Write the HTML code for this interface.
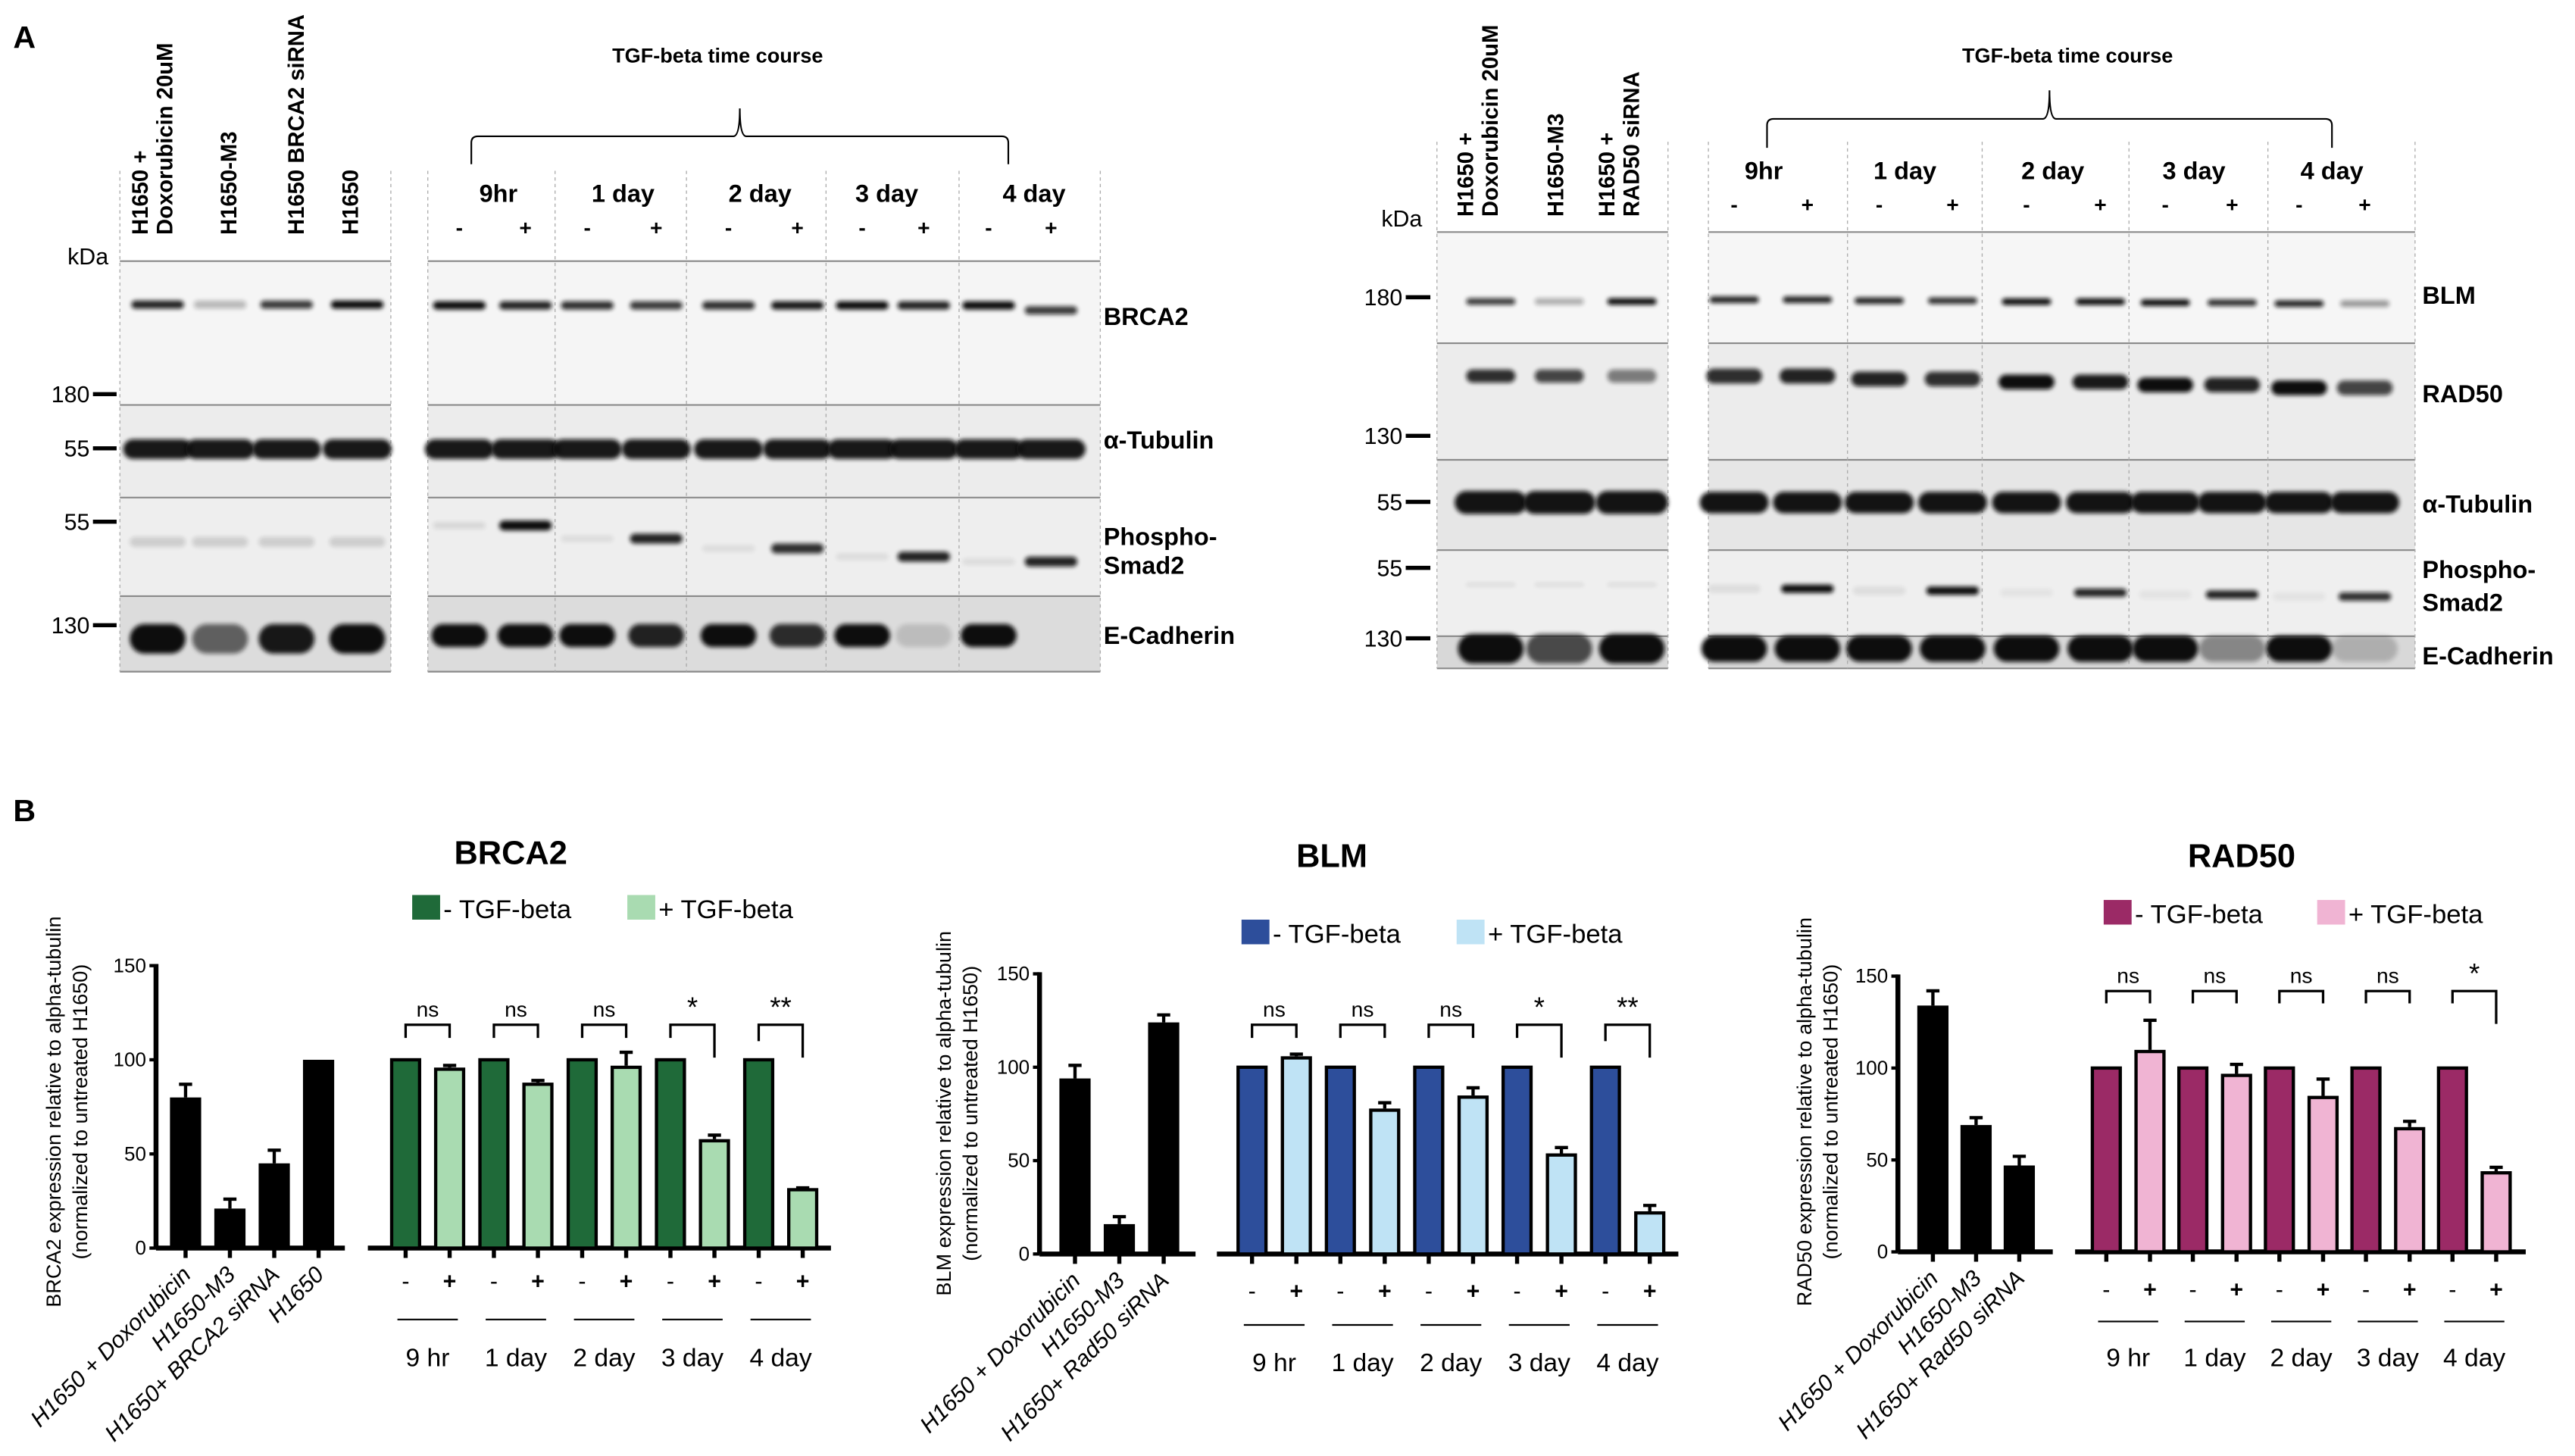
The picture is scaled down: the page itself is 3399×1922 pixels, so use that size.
<!DOCTYPE html>
<html><head><meta charset="utf-8">
<style>
html,body{margin:0;padding:0;background:#fff;}
svg{display:block;}
text{font-family:"Liberation Sans Narrow","Liberation Sans",sans-serif;fill:#000;}
.b{font-weight:bold;}
</style></head>
<body>
<svg id="fig" xmlns="http://www.w3.org/2000/svg" width="3399" height="1922" viewBox="0 0 1568 886.6" preserveAspectRatio="none">
<defs><filter id="blur" x="-20%" y="-100%" width="140%" height="300%"><feGaussianBlur stdDeviation="1.3"/></filter></defs>
<text x="8" y="29" font-size="19" class="b">A</text>
<text x="8" y="500" font-size="19" class="b">B</text>
<g id="blots"></g>
<g id="charts"></g>
</svg>
<script>
// ---------- Chart data ----------
const timeLabels = ['9 hr','1 day','2 day','3 day','4 day'];
const brcaLeftCats = ['H1650 + Doxorubicin','H1650-M3','H1650+ BRCA2 siRNA','H1650'];
const brcaLeftVals = [80, 21, 45, 100];
const brcaLeftErr = [7, 5, 7, 0];
const brcaMinus = [100, 100, 100, 100, 100];
const brcaPlus = [95, 87, 96, 57, 31];
const brcaPlusErr = [2, 2, 8, 3, 1];
const brcaSig = ['ns','ns','ns','*','**'];

const blmLeftCats = ['H1650 + Doxorubicin','H1650-M3','H1650+ Rad50 siRNA'];
const blmLeftVals = [94, 16, 124];
const blmLeftErr = [7, 4, 4];
const blmMinus = [100, 100, 100, 100, 100];
const blmPlus = [105, 77, 84, 53, 22];
const blmPlusErr = [2, 4, 5, 4, 4];
const blmSig = ['ns','ns','ns','*','**'];

const radLeftCats = ['H1650 + Doxorubicin','H1650-M3','H1650+ Rad50 siRNA'];
const radLeftVals = [134, 69, 47];
const radLeftErr = [8, 4, 5];
const radMinus = [100, 100, 100, 100, 100];
const radPlus = [109, 96, 84, 67, 43];
const radPlusErr = [17, 6, 10, 4, 3];
const radSig = ['ns','ns','ns','ns','*'];

const yTicks = [0, 50, 100, 150];

const NS = 'http://www.w3.org/2000/svg';
function mk(parent, tag, attrs, txt){
  const e = document.createElementNS(NS, tag);
  for (const k in attrs) e.setAttribute(k, attrs[k]);
  if (txt !== undefined) e.textContent = txt;
  parent.appendChild(e);
  return e;
}

function chart(c){
  const g = mk(document.getElementById('charts'), 'g', {});
  
  
  const y = v => c.y0 - v * (c.y0 - c.y150) / 150;
  const t = mk(g, 'text', {x:c.titleX, y:c.titleY, 'font-size':20, 'text-anchor':'middle', class:'b'}, c.title);
  
  
  const l1 = mk(g, 'rect', {x:c.lg1, y:c.lgY-8, width:17, height:15, fill:c.dark});
  
  
  const lt1 = mk(g, 'text', {x:c.lg1+19, y:c.lgY+6, 'font-size':16}, '- TGF-beta');
  
  
  const l2 = mk(g, 'rect', {x:c.lg2, y:c.lgY-8, width:17, height:15, fill:c.light});
  
  
  const lt2 = mk(g, 'text', {x:c.lg2+19, y:c.lgY+6, 'font-size':16}, '+ TGF-beta');
  
  
  const yt = mk(g, 'text', {transform:`translate(${c.ytX},${c.ytY}) rotate(-90)`, 'font-size':12.5, 'text-anchor':'middle', 'font-family':'Liberation Sans, sans-serif'});
  
  
  mk(yt, 'tspan', {x:0, y:0}, c.ytitle);
  mk(yt, 'tspan', {x:0, y:16}, '(normalized to untreated H1650)');
  const ya = mk(g, 'line', {x1:c.ax, y1:y(150)-1, x2:c.ax, y2:c.y0, stroke:'#000', 'stroke-width':3});
  
  
  yTicks.forEach(v => {
    mk(g, 'line', {x1:c.ax-4, y1:y(v), x2:c.ax, y2:y(v), stroke:'#000', 'stroke-width':2});
    const tl = mk(g, 'text', {x:c.ax-6, y:y(v)+4, 'font-size':12, 'text-anchor':'end'}, String(v));
    
    
  });
  const xa = mk(g, 'line', {x1:c.ax, y1:c.y0, x2:c.lEnd, y2:c.y0, stroke:'#000', 'stroke-width':3});
  
  
  const xb = mk(g, 'line', {x1:c.rStart, y1:c.y0, x2:c.rEnd, y2:c.y0, stroke:'#000', 'stroke-width':3});
  
  
  const bw = 19;
  c.lVals.forEach((v, i) => {
    const cx = c.lx0 + i * c.lstep;
    const r = mk(g, 'rect', {x:cx-bw/2, y:y(v), width:bw, height:c.y0-y(v), fill:'#000'});
    
    
    if (c.lErr[i] > 0) {
      mk(g, 'line', {x1:cx, y1:y(v), x2:cx, y2:y(v+c.lErr[i]), stroke:'#000', 'stroke-width':2});
      mk(g, 'line', {x1:cx-4, y1:y(v+c.lErr[i]), x2:cx+4, y2:y(v+c.lErr[i]), stroke:'#000', 'stroke-width':2});
    }
    mk(g, 'line', {x1:cx, y1:c.y0, x2:cx, y2:c.y0+6, stroke:'#000', 'stroke-width':2.5});
    const cl = mk(g, 'text', {transform:`translate(${cx+4},${c.y0+17}) rotate(-45)`, 'font-size':14, 'text-anchor':'end', 'font-style':'italic', 'font-family':'Liberation Sans, sans-serif'}, c.lCats[i]);
    
    
  });
  for (let gi = 0; gi < c.minus.length; gi++) {
    const xm = c.rx0 + gi * c.gstep, xp = xm + c.pstep;
    const rm = mk(g, 'rect', {x:xm-bw/2+1, y:y(c.minus[gi]), width:bw-2, height:c.y0-y(c.minus[gi]), fill:c.dark, stroke:'#000', 'stroke-width':2});
    
    
    const vp = c.plus[gi];
    const rp = mk(g, 'rect', {x:xp-bw/2+1, y:y(vp), width:bw-2, height:c.y0-y(vp), fill:c.light, stroke:'#000', 'stroke-width':2});
    
    
    const et = y(vp + c.pErr[gi]);
    mk(g, 'line', {x1:xp, y1:y(vp)-1, x2:xp, y2:et, stroke:'#000', 'stroke-width':2});
    mk(g, 'line', {x1:xp-4, y1:et, x2:xp+4, y2:et, stroke:'#000', 'stroke-width':2});
    [xm, xp].forEach(xx => mk(g, 'line', {x1:xx, y1:c.y0, x2:xx, y2:c.y0+6, stroke:'#000', 'stroke-width':2.5}));
    const sg = c.sig[gi];
    const longR = sg !== 'ns' ? c.legLong : c.legShort;
    const longL = sg === '**' ? c.legShort + 2 : c.legShort;
    const br = mk(g, 'polyline', {points:`${xm},${c.brTop+longL} ${xm},${c.brTop} ${xp},${c.brTop} ${xp},${c.brTop+longR}`, fill:'none', stroke:'#000', 'stroke-width':1.5});
    
    
    const st = mk(g, 'text', {x:(xm+xp)/2, y:c.brTop-5, 'font-size': sg==='ns'?13:17, 'text-anchor':'middle'}, sg);
    
    
    mk(g, 'text', {x:xm, y:c.pmY, 'font-size':14, 'text-anchor':'middle'}, '-');
    mk(g, 'text', {x:xp, y:c.pmY, 'font-size':14, 'text-anchor':'middle', class:'b'}, '+');
    mk(g, 'line', {x1:xm-5, y1:c.lnY, x2:xp+5, y2:c.lnY, stroke:'#000', 'stroke-width':1});
    const tl = mk(g, 'text', {x:(xm+xp)/2, y:c.tlY, 'font-size':15.5, 'text-anchor':'middle'}, timeLabels[gi]);
    
    
  }
}

chart({id:'brca2', title:'BRCA2', titleX:311, titleY:526, dark:'#1f6a39', light:'#a9dbb1',
  lg1:251, lg2:382, lgY:553, ytitle:'BRCA2 expression relative to alpha-tubulin', ytX:37, ytY:677,
  y0:760, y150:588, ax:95, lEnd:210, rStart:224, rEnd:506,
  lCats:brcaLeftCats, lVals:brcaLeftVals, lErr:brcaLeftErr, lx0:113, lstep:27,
  minus:brcaMinus, plus:brcaPlus, pErr:brcaPlusErr, sig:brcaSig, rx0:247, gstep:53.75, pstep:26.8,
  brTop:624, legShort:8, legLong:20, pmY:785, lnY:803.5, tlY:832});
chart({id:'blm', title:'BLM', titleX:811, titleY:528, dark:'#2d4e9b', light:'#bfe3f5',
  lg1:756, lg2:887, lgY:568, ytitle:'BLM expression relative to alpha-tubulin', ytX:579, ytY:678,
  y0:763.6, y150:593, ax:633, lEnd:728, rStart:741, rEnd:1022,
  lCats:blmLeftCats, lVals:blmLeftVals, lErr:blmLeftErr, lx0:654.6, lstep:27,
  minus:blmMinus, plus:blmPlus, pErr:blmPlusErr, sig:blmSig, rx0:762.4, gstep:53.8, pstep:27,
  brTop:624, legShort:8, legLong:20, pmY:791, lnY:806.8, tlY:835});
chart({id:'rad50', title:'RAD50', titleX:1365, titleY:528, dark:'#9b2a66', light:'#f0b4d3',
  lg1:1281, lg2:1411, lgY:556, ytitle:'RAD50 expression relative to alpha-tubulin', ytX:1103, ytY:677,
  y0:762.3, y150:594.4, ax:1155.7, lEnd:1250, rStart:1263.6, rEnd:1538,
  lCats:radLeftCats, lVals:radLeftVals, lErr:radLeftErr, lx0:1177, lstep:26.3,
  minus:radMinus, plus:radPlus, pErr:radPlusErr, sig:radSig, rx0:1282.6, gstep:52.7, pstep:26.6,
  brTop:603.5, legShort:7.5, legLong:20, pmY:790, lnY:804.7, tlY:832});

// ---------- Blots ----------
const blotA = {
  leftPanel:[73,238], rightPanel:[260.5,670],
  rows:[159,246.6,303,363,409],
  dividers:[338,418,503,584],
  leftLanes:[96,134,174.5,217.5],
  rightLanes:[279.7,320,357.6,399.6,443.6,485.6,525,562.5,602,640],
  headers:[{x:85,t:'H1650 +'},{x:100,t:'Doxorubicin 20uM'},{x:139,t:'H1650-M3'},{x:180,t:'H1650 BRCA2 siRNA'},{x:213,t:'H1650'}],
  headBottom:143,
  course:{x:437,y:38,l:287,r:614,top:66,mid:83,bot:100},
  times:[303.5,379.4,462.8,540,629.7], timeY:123, pmY:143,
  kda:{x:66,y:161}, markers:[['180',240],['55',273],['55',317.7],['130',380.7]], mkX:[56.6,71],
  labels:[['BRCA2',193],['α-Tubulin',268],['Phospho-',327],['Smad2',344.5],['E-Cadherin',387]], labX:672
};
const brca2BandsLeft=[0.9,0.25,0.8,1], brca2BandsRight=[1,0.9,0.85,0.8,0.85,0.95,1,0.9,1,0.8];
const ecadA_Left=[1,0.6,0.95,1], ecadA_Right=[1,1,1,0.9,1,0.85,1,0.15,1,0];
const smadA_Right=[0.1,1,0.08,0.9,0.08,0.85,0.08,0.9,0.08,0.9];
const smadA_Y=[320,320,328,328,334,334,339,339,342,342];

const blotB = {
  leftPanel:[875,1015.7], rightPanel:[1040.3,1470.6],
  rows:[141.3,209,280,335,387.4,407],
  dividers:[1125,1207,1296.4,1381],
  leftLanes:[907.8,949.5,993.7],
  rightLanes:[1056,1100.6,1144.3,1189,1234,1279,1318.5,1359.2,1400,1440],
  headers:[{x:892,t:'H1650 +'},{x:907,t:'Doxorubicin 20uM'},{x:947,t:'H1650-M3'},{x:978,t:'H1650 +'},{x:993,t:'RAD50 siRNA'}],
  headBottom:132,
  course:{x:1259,y:38,l:1076,r:1420,top:55,mid:72.4,bot:90},
  times:[1074,1160,1250,1336,1420], timeY:109, pmY:129,
  kda:{x:866,y:138}, markers:[['180',181],['130',265.4],['55',305.6],['55',345.8],['130',388.7]], mkX:[856,871],
  labels:[['BLM',180],['RAD50',240],['α-Tubulin',307],['Phospho-',347],['Smad2',367],['E-Cadherin',399.5]], labX:1475
};
const blmBandsLeft=[0.8,0.3,1], blmBandsRight=[0.9,0.9,0.9,0.85,1,1,1,0.85,0.9,0.4];
const radBandsLeft=[0.85,0.75,0.5], radBandsRight=[0.85,0.9,0.9,0.85,1,0.95,1,0.9,1,0.75];
const smadB_Right=[0.08,1,0.08,1,0.05,0.9,0.05,0.9,0.05,0.85];
const ecadB_Left=[1,0.7,1], ecadB_Right=[1,1,1,1,1,1,1,0.4,1,0.2];

const blots = document.getElementById('blots');
function band(g, x, y, w, h, op){
  if (op <= 0) return;
  const e = mk(g, 'rect', {x:x-w/2, y:y-h/2, width:w, height:h, rx:h/2, fill:'#111', opacity:op, filter:'url(#blur)'});
  
  
}
function blotFrame(b, id, rowFills){
  const g = mk(blots, 'g', {});
  
  
  [b.leftPanel, b.rightPanel].forEach(p => {
    for (let r = 0; r < b.rows.length-1; r++) {
      mk(g, 'rect', {x:p[0], y:b.rows[r], width:p[1]-p[0], height:b.rows[r+1]-b.rows[r], fill:rowFills[r]});
    }
    b.rows.forEach((ry, r) => mk(g, 'line', {x1:p[0], y1:ry, x2:p[1], y2:ry, stroke:'#8a8a8a', 'stroke-width':1}));
    [p[0], p[1]].forEach(px => mk(g, 'line', {x1:px, y1:b.rows[0]-55, x2:px, y2:b.rows[b.rows.length-1], stroke:'#aaa', 'stroke-width':0.6, 'stroke-dasharray':'2,2'}));
  });
  b.dividers.forEach(dx => mk(g, 'line', {x1:dx, y1:b.rows[0]-55, x2:dx, y2:b.rows[b.rows.length-1], stroke:'#aaa', 'stroke-width':0.6, 'stroke-dasharray':'2,2'}));
  b.headers.forEach(h => {
    const t = mk(g, 'text', {transform:`translate(${h.x+5},${b.headBottom}) rotate(-90)`, 'font-size':13.5, class:'b', 'font-family':'Liberation Sans, sans-serif'}, h.t);
    
    
  });
  const c = b.course;
  const ct = mk(g, 'text', {x:c.x, y:c.y, 'font-size':12.5, 'text-anchor':'middle', class:'b'}, 'TGF-beta time course');
  
  
  mk(g, 'path', {d:`M${c.l},${c.bot} L${c.l},${c.mid+4} Q${c.l},${c.mid} ${c.l+4},${c.mid} L${(c.l+c.r)/2-4},${c.mid} Q${(c.l+c.r)/2},${c.mid} ${(c.l+c.r)/2},${c.top} Q${(c.l+c.r)/2},${c.mid} ${(c.l+c.r)/2+4},${c.mid} L${c.r-4},${c.mid} Q${c.r},${c.mid} ${c.r},${c.mid+4} L${c.r},${c.bot}`, fill:'none', stroke:'#000', 'stroke-width':1});
  b.times.forEach((tx, i) => {
    const t = mk(g, 'text', {x:tx, y:b.timeY, 'font-size':15, 'text-anchor':'middle', class:'b'}, ['9hr','1 day','2 day','3 day','4 day'][i]);
    
    
  });
  b.rightLanes.forEach((lx, i) => mk(g, 'text', {x:lx, y:b.pmY, 'font-size':13, 'text-anchor':'middle', class:'b'}, i%2 ? '+' : '-'));
  const kd = mk(g, 'text', {x:b.kda.x, y:b.kda.y, 'font-size':14, 'text-anchor':'end'}, 'kDa');
  
  
  b.markers.forEach(m => {
    mk(g, 'line', {x1:b.mkX[0], y1:m[1], x2:b.mkX[1], y2:m[1], stroke:'#000', 'stroke-width':2.5});
    const t = mk(g, 'text', {x:b.mkX[0]-2, y:m[1]+5, 'font-size':14, 'text-anchor':'end'}, m[0]);
    
    
  });
  b.labels.forEach(l => {
    const t = mk(g, 'text', {x:b.labX, y:l[1]+5, 'font-size':15, class:'b'}, l[0]);
    
    
  });
  return g;
}
const gA = blotFrame(blotA, 'blot-brca2', ['#f5f5f5','#ececec','#eeeeee','#dcdcdc']);
blotA.leftLanes.forEach((x,i)=>{ band(gA,x,185.5,32,5,brca2BandsLeft[i]); band(gA,x,273.5,42,12,0.95); band(gA,x,330,34,6,0.14); band(gA,x,389,34,18,ecadA_Left[i]); });
blotA.rightLanes.forEach((x,i)=>{ band(gA,x,(i>=8&&i%2)?189:186,32,5,brca2BandsRight[i]); band(gA,x,273.5,42,12,0.95); band(gA,x,smadA_Y[i],32,i%2?6:4,smadA_Right[i]); band(gA,x,387,34,14,ecadA_Right[i]); });
const gB = blotFrame(blotB, 'blot-blm-rad50', ['#f6f6f6','#ececec','#e6e6e6','#efefef','#d8d8d8']);
blotB.leftLanes.forEach((x,i)=>{ band(gB,x,183.6,30,4,blmBandsLeft[i]); band(gB,x,229,30,8,radBandsLeft[i]); band(gB,x,306,44,14,0.97); band(gB,x,356,30,2,0.1); band(gB,x,395,40,18,ecadB_Left[i]); });
blotB.rightLanes.forEach((x,i)=>{ const gi=Math.floor(i/2); band(gB,x,182.5+gi*0.6,30,4,blmBandsRight[i]); band(gB,x,229+gi*1.8,34,9,radBandsRight[i]); band(gB,x,306,42,13,0.97); band(gB,x,358.5+gi*1.2,32,5,smadB_Right[i]); band(gB,x,395,40,16,ecadB_Right[i]); });
</script>
</body></html>
